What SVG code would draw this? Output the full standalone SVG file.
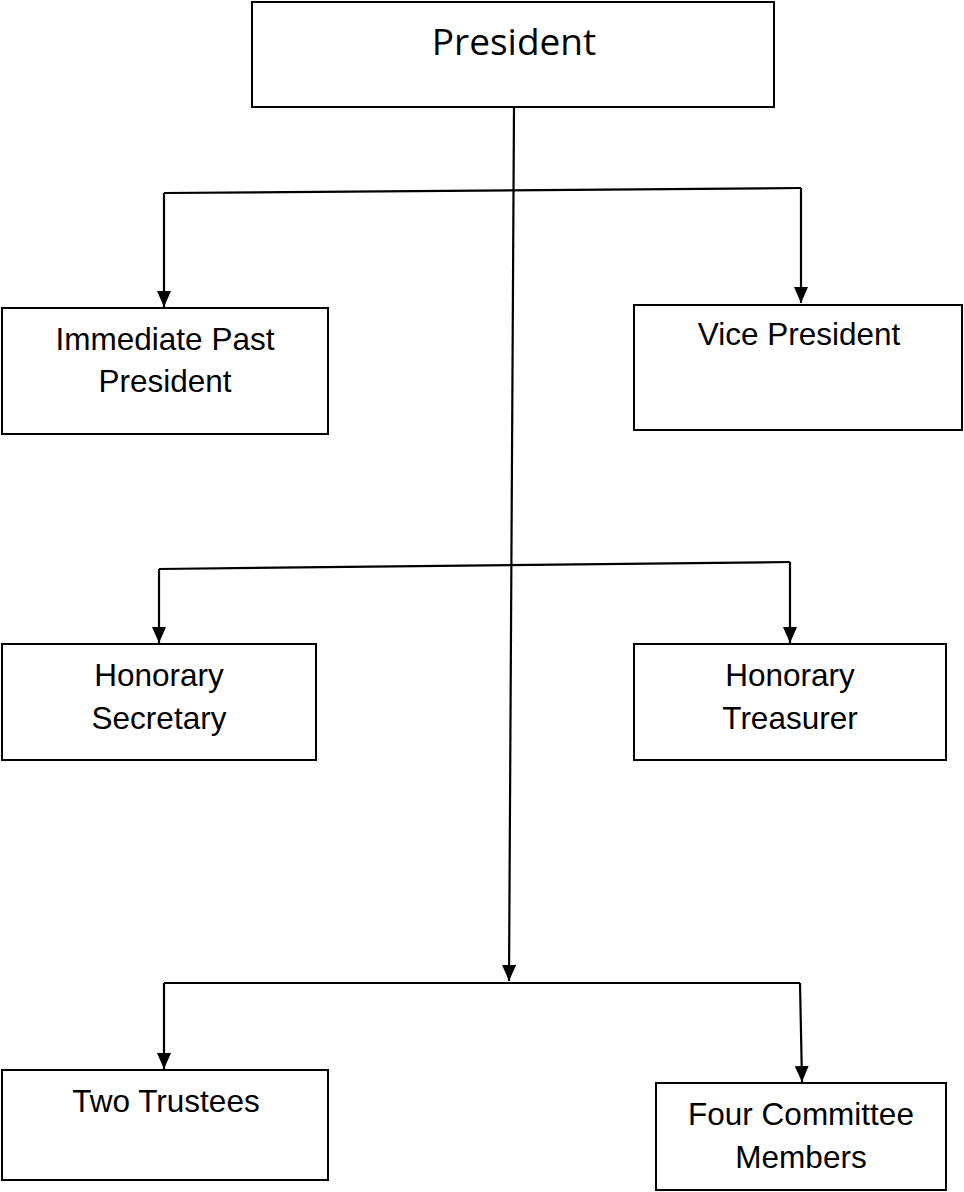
<svg xmlns="http://www.w3.org/2000/svg" width="964" height="1192" viewBox="0 0 964 1192">
<style>
.box{fill:#fff;stroke:#000;stroke-width:2}
.t{font-family:"Liberation Sans",Arial,sans-serif;font-size:31.5px;fill:#000;text-anchor:middle}
.tp{font-family:"Open Sans","Noto Sans",sans-serif;font-size:37px;fill:#000;text-anchor:middle}
.c{fill:none;stroke:#000;stroke-width:2.2}
</style>
<defs>
<marker id="ah" viewBox="0 0 16 14" refX="16" refY="7" markerWidth="16" markerHeight="14" markerUnits="userSpaceOnUse" orient="auto">
<path d="M0,0 L16,7 L0,14 Z" fill="#000"/>
</marker>
</defs>
<rect width="964" height="1192" fill="#fff"/>
<g id="connectors">
<path class="c" d="M514,107 L509,981" marker-end="url(#ah)"/>
<path class="c" d="M164,193 L801,188"/>
<path class="c" d="M164,193 L164,307" marker-end="url(#ah)"/>
<path class="c" d="M801,188 L801,303" marker-end="url(#ah)"/>
<path class="c" d="M159,569 L790,562"/>
<path class="c" d="M159,569 L159,643" marker-end="url(#ah)"/>
<path class="c" d="M790,562 L790,643" marker-end="url(#ah)"/>
<path class="c" d="M164,983 L800,983"/>
<path class="c" d="M164,983 L164,1069" marker-end="url(#ah)"/>
<path class="c" d="M800,983 L802,1082" marker-end="url(#ah)"/>
</g>
<g id="president">
<rect class="box" x="252" y="2" width="522" height="105"/>
<text class="tp" x="514" y="55">President</text>
</g>
<g id="immediate-past-president">
<rect class="box" x="2" y="308" width="326" height="126"/>
<text class="t" x="165" y="350">Immediate Past</text>
<text class="t" x="165" y="392">President</text>
</g>
<g id="vice-president">
<rect class="box" x="634" y="305" width="328" height="125"/>
<text class="t" x="799" y="345">Vice President</text>
</g>
<g id="honorary-secretary">
<rect class="box" x="2" y="644" width="314" height="116"/>
<text class="t" x="159" y="686">Honorary</text>
<text class="t" x="159" y="729">Secretary</text>
</g>
<g id="honorary-treasurer">
<rect class="box" x="634" y="644" width="312" height="116"/>
<text class="t" x="790" y="686">Honorary</text>
<text class="t" x="790" y="729">Treasurer</text>
</g>
<g id="two-trustees">
<rect class="box" x="2" y="1070" width="326" height="110"/>
<text class="t" x="166" y="1112">Two Trustees</text>
</g>
<g id="four-committee-members">
<rect class="box" x="656" y="1083" width="290" height="107"/>
<text class="t" x="801" y="1125">Four Committee</text>
<text class="t" x="801" y="1168">Members</text>
</g>
</svg>
